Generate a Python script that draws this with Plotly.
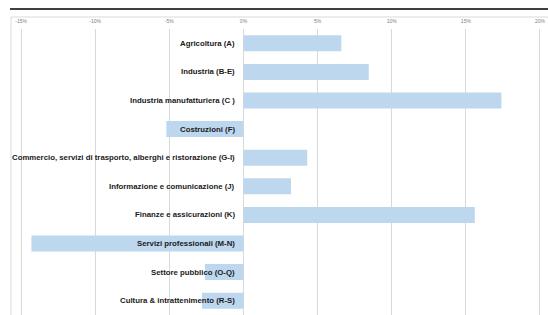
import plotly.graph_objects as go

categories = [
    "Agricoltura (A)",
    "Industria (B-E)",
    "Industria manufatturiera (C )",
    "Costruzioni (F)",
    "Commercio, servizi di trasporto, alberghi e ristorazione (G-I)",
    "Informazione e comunicazione (J)",
    "Finanze e assicurazioni (K)",
    "Servizi professionali (M-N)",
    "Settore pubblico (O-Q)",
    "Cultura & intrattenimento (R-S)",
]
values = [6.6, 8.45, 17.4, -5.2, 4.3, 3.2, 15.6, -14.3, -2.6, -2.8]
tick_vals = [-15, -10, -5, 0, 5, 10, 15, 20]
tick_text = ["-15%", "-10%", "-5%", "0%", "5%", "10%", "15%", "20%"]

W, H = 548, 315
ML, MT = 11, 29
plot_h = H - MT

fig = go.Figure()
fig.add_trace(go.Bar(
    x=values, y=categories, orientation="h",
    marker=dict(color="#BDD7EE", line=dict(width=0)),
    hoverinfo="x+y",
))

for c in categories:
    fig.add_annotation(x=0, y=c, xref="x", yref="y", text="<b>%s</b>" % c,
                       showarrow=False, xanchor="right", xshift=-6,
                       font=dict(family="Liberation Sans", size=7.8, color="#1a1a1a"))

def py(px):
    return 1 + (MT - px) / plot_h

# top black line
fig.add_shape(type="line", xref="paper", yref="paper", x0=-1 / (W - ML), x1=1, y0=py(9), y1=py(9),
              line=dict(color="black", width=1.5))
# plot-area light border (top and left)
fig.add_shape(type="line", xref="paper", yref="paper", x0=0, x1=1, y0=py(17), y1=py(17),
              line=dict(color="#d9d9d9", width=1))
fig.add_shape(type="line", xref="paper", yref="paper", x0=0, x1=0, y0=0, y1=py(17),
              line=dict(color="#d9d9d9", width=1))

fig.update_layout(
    width=W, height=H,
    margin=dict(l=ML, r=0, t=MT, b=0, autoexpand=False),
    paper_bgcolor="white", plot_bgcolor="white",
    showlegend=False, bargap=0.44,
    xaxis=dict(range=[-15.68, 20.54], side="top", tickvals=tick_vals, ticktext=tick_text,
               showgrid=True, gridcolor="#d9d9d9", gridwidth=1, zeroline=False,
               tickfont=dict(family="Liberation Sans", size=5, color="#7f7f7f"),
               ticks="", ticklabelstandoff=4, showline=False, fixedrange=True,
               automargin=False),
    yaxis=dict(categoryorder="array", categoryarray=categories[::-1],
               showticklabels=False, showgrid=False, zeroline=False, ticks="",
               range=[-0.5, len(categories) - 0.5], automargin=False),
)

fig.write_html("out.html", config={"displayModeBar": False},
               post_script="document.body.style.margin='0';document.body.style.padding='0';")
